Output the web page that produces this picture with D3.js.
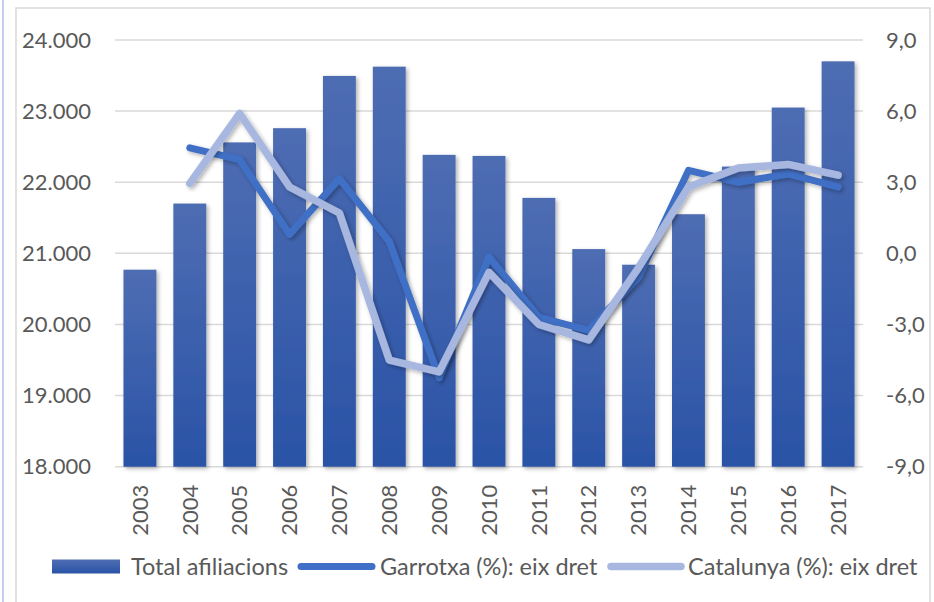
<!DOCTYPE html>
<html><head><meta charset="utf-8">
<script src="https://cdn.jsdelivr.net/npm/d3@7"></script>
<style>
html,body{margin:0;padding:0;background:#fff;}
svg{display:block;}
text{font-family:Lato,"Open Sans",sans-serif;fill:#595959;}
</style></head>
<body>
<script>
const years = ["2003","2004","2005","2006","2007","2008","2009","2010","2011","2012","2013","2014","2015","2016","2017"];
const totalAfiliacions = [20770,21700,22560,22760,23495,23625,22385,22370,21780,21060,20840,21550,22220,23050,23700];
const garrotxa = [null,4.45,3.95,0.8,3.15,0.5,-5.25,-0.15,-2.7,-3.25,-1.0,3.5,3.0,3.35,2.8];
const catalunya = [null,2.95,5.9,2.8,1.7,-4.5,-5.0,-0.8,-3.0,-3.65,-0.6,2.8,3.6,3.75,3.3];
const leftTicks = [18000,19000,20000,21000,22000,23000,24000];
const rightTicks = [-9,-6,-3,0,3,6,9];
const seriesNames = ["Total afiliacions","Garrotxa (%): eix dret","Catalunya (%): eix dret"];
const colors = {bar:["#4E6DB3","#2A53A6"], garrotxa:"#3F6FC6", catalunya:"#A7B7DF"};

const W = 934, H = 602;
const pL = 115, pR = 863, pT = 40, pB = 466.7;

const svg = d3.select("body").append("svg").attr("width", W).attr("height", H);
const defs = svg.append("defs");
const grad = defs.append("linearGradient").attr("id","barGrad").attr("x1",0).attr("y1",0).attr("x2",0).attr("y2",1);
grad.append("stop").attr("offset","0%").attr("stop-color",colors.bar[0]);
grad.append("stop").attr("offset","100%").attr("stop-color",colors.bar[1]);
const sh = defs.append("filter").attr("id","shadow").attr("x","-20%").attr("y","-20%").attr("width","140%").attr("height","140%");
sh.append("feDropShadow").attr("dx",2).attr("dy",2).attr("stdDeviation",2).attr("flood-color","#000").attr("flood-opacity",0.3);

// frames
svg.append("line").attr("x1",3).attr("x2",3).attr("y1",0).attr("y2",H).attr("stroke","#b4bde6").attr("stroke-width",1.5);
svg.append("rect").attr("x",16).attr("y",8).attr("width",914).attr("height",H).attr("fill","none").attr("stroke","#d9d9d9").attr("stroke-width",1.5);

const loc = d3.formatLocale({decimal:",", thousands:".", grouping:[3], currency:["","€"], minus:"-"});
const fmtL = loc.format(",.0f");
const fmtR = loc.format(".1f");

const x = d3.scaleBand().domain(years).range([pL,pR]).paddingInner(0.34).paddingOuter(0.17);
const yL = d3.scaleLinear().domain([18000,24000]).range([pB,pT]);
const yR = d3.scaleLinear().domain([-9,9]).range([pB,pT]);

// gridlines
svg.append("g").selectAll("line").data(leftTicks).join("line")
  .attr("x1",pL).attr("x2",pR).attr("y1",d=>yL(d)).attr("y2",d=>yL(d))
  .attr("stroke","#d9d9d9").attr("stroke-width",1.5);

// axes
const axL = svg.append("g").attr("transform",`translate(${pL},0)`)
  .call(d3.axisLeft(yL).tickValues(leftTicks).tickFormat(fmtL).tickSize(0).tickPadding(24));
axL.select(".domain").remove();
axL.selectAll("text").attr("font-size",22).style("font-family","Lato").attr("fill","#595959");

const axR = svg.append("g").attr("transform",`translate(${pR},0)`)
  .call(d3.axisRight(yR).tickValues(rightTicks).tickFormat(fmtR).tickSize(0).tickPadding(23));
axR.select(".domain").remove();
axR.selectAll("text").attr("font-size",22).style("font-family","Lato").attr("fill","#595959");

// bars
svg.append("g").attr("filter","url(#shadow)").selectAll("rect").data(years).join("rect")
  .attr("x",d=>x(d)).attr("width",x.bandwidth())
  .attr("y",(d,i)=>yL(totalAfiliacions[i])).attr("height",(d,i)=>pB-yL(totalAfiliacions[i]))
  .attr("fill","url(#barGrad)");

// x axis labels
const axB = svg.append("g").attr("transform",`translate(0,${pB})`)
  .call(d3.axisBottom(x).tickSize(0).tickPadding(0));
axB.select(".domain").remove();
axB.selectAll("text").attr("font-size",22).style("font-family","Lato").attr("fill","#595959")
  .attr("text-anchor","end").attr("dy","0.35em")
  .attr("transform","translate(0,18) rotate(-90)").attr("x",0).attr("y",0);

// lines
const mkLine = vals => d3.line().defined(d=>d[1]!==null).x(d=>x(d[0])+x.bandwidth()/2).y(d=>yR(d[1]))(years.map((y,i)=>[y,vals[i]]));
svg.append("path").attr("d",mkLine(garrotxa)).attr("fill","none").attr("stroke",colors.garrotxa)
  .attr("stroke-width",7).attr("stroke-linejoin","round").attr("stroke-linecap","round").attr("filter","url(#shadow)");
svg.append("path").attr("d",mkLine(catalunya)).attr("fill","none").attr("stroke",colors.catalunya)
  .attr("stroke-width",7.5).attr("stroke-linejoin","round").attr("stroke-linecap","round").attr("filter","url(#shadow)");

// legend
const ly = 566.5;
const lg = svg.append("g");
lg.append("rect").attr("x",52).attr("y",ly-7).attr("width",68).attr("height",14).attr("fill","url(#barGrad)");
lg.append("text").attr("x",131).attr("y",ly).attr("dy","0.35em").attr("font-size",23.5).text(seriesNames[0]);
lg.append("line").attr("x1",301).attr("x2",372).attr("y1",ly).attr("y2",ly).attr("stroke",colors.garrotxa).attr("stroke-width",7).attr("stroke-linecap","round");
lg.append("text").attr("x",380).attr("y",ly).attr("dy","0.35em").attr("font-size",23.5).text(seriesNames[1]);
lg.append("line").attr("x1",611).attr("x2",681).attr("y1",ly).attr("y2",ly).attr("stroke",colors.catalunya).attr("stroke-width",7.5).attr("stroke-linecap","round");
lg.append("text").attr("x",688).attr("y",ly).attr("dy","0.35em").attr("font-size",23.5).text(seriesNames[2]);
</script>
</body></html>
